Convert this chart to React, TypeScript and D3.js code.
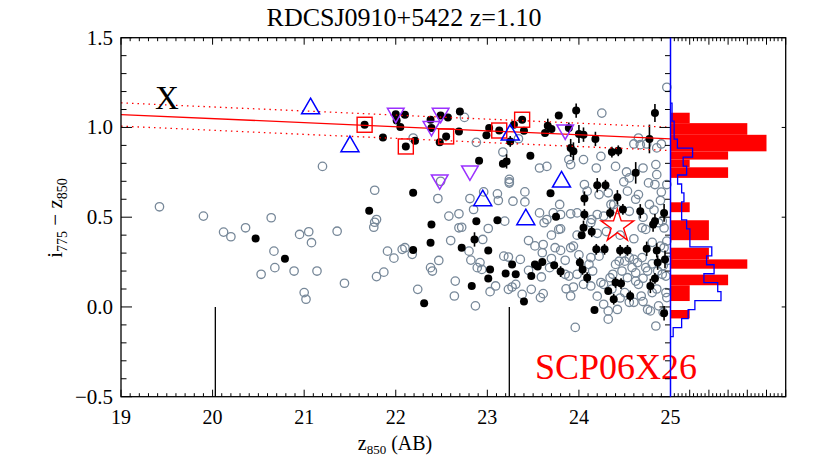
import * as d3 from 'd3'

// ---- data ----
const grayX = [19.42,19.90,20.12,20.20,20.36,20.64,20.67,20.68,20.53,20.89,20.95,21.05,21.08,21.14,21.00,21.02,21.20,21.36,21.44,21.77,21.79,21.77,21.76,21.91,21.98,21.79,21.87,22.07,22.10,22.18,22.24,22.19,
  22.75,22.88,23.34,24.25,23.17,23.24,23.24,23.24,22.49,22.46,22.81,22.96,23.11,23.12,23.28,23.41,23.41,23.57,23.65,23.79,23.89,23.91,24.05,24.06,24.09,24.19,24.22,24.24,24.32,24.35,24.40,24.52,24.55,24.60,24.65,24.67,24.70,24.74,24.76,24.83,24.85,24.84,24.85,24.90,24.96,24.96,24.49,24.53,24.65,24.77,24.89,22.58,22.69,22.85,23.19,23.57,23.65,23.80,23.91,24.14,24.42,
  22.38,22.40,22.47,22.60,22.65,22.64,22.69,22.72,22.80,22.82,22.87,22.89,22.92,22.94,22.95,23.01,23.09,23.03,23.18,23.23,23.23,23.27,23.31,23.36,23.38,23.45,23.48,23.58,23.59,23.61,23.60,23.61,23.62,23.68,23.74,23.78,23.80,23.85,23.89,23.91,23.94,23.86,23.94,23.91,23.96,23.98,24.05,24.11,24.13,24.13,24.22,24.24,24.27,24.27,24.32,24.32,24.34,24.37,24.40,24.44,24.42,24.50,24.55,24.60,24.55,24.60,24.62,24.65,24.64,24.68,24.69,24.73,24.75,24.75,24.78,24.69,24.73,24.84,24.89,24.93,24.91,24.95,24.95,24.96,24.87,24.47,24.53,
  23.72,23.80,23.98,24.13,24.20,24.27,24.38,24.55,24.87,24.91,24.96,
  24.58,24.62,24.70,24.80,24.86,24.92,24.97,24.80,24.85,24.92,24.70,24.50,24.45,24.36,24.20,24.15,24.00,23.85,23.70,24.80,24.60,24.45,24.30,24.70,24.82,24.93,24.62,24.90,24.20,23.98,23.70,23.52,23.45]
const grayY = [0.558,0.506,0.417,0.391,0.441,0.497,0.311,0.219,0.182,0.200,0.404,0.419,0.358,0.200,0.080,0.043,0.783,0.422,0.132,0.650,0.487,0.472,0.444,0.311,0.272,0.169,0.194,0.321,0.330,0.293,0.098,0.941,
  1.056,0.917,0.937,1.080,0.863,0.711,0.690,0.697,0.700,0.604,0.604,0.641,0.630,0.593,0.589,0.641,0.585,0.774,0.783,0.571,0.821,0.793,0.821,0.682,0.645,0.774,0.626,0.839,0.636,0.571,0.783,0.752,0.719,0.908,0.941,0.904,0.774,0.908,0.691,0.682,0.737,0.793,0.886,0.908,0.682,1.224,0.697,0.645,0.626,0.571,0.593,0.506,0.519,0.543,0.478,0.524,0.487,0.515,0.519,0.487,0.543,
  0.219,0.200,0.259,0.370,0.144,0.061,0.441,0.444,0.311,0.261,0.006,0.219,0.247,0.209,0.376,0.437,0.117,0.085,0.283,0.278,0.098,0.111,0.126,0.265,0.070,0.204,0.098,0.052,0.167,0.074,0.302,0.348,0.469,0.219,0.330,0.432,0.315,0.182,0.172,0.330,0.339,0.101,0.111,0.061,-0.114,0.182,0.126,0.237,0.117,0.275,0.283,0.136,0.126,0.015,-0.022,-0.068,0.163,0.182,0.237,0.255,-0.014,0.255,0.275,0.265,0.026,0.026,0.144,0.126,0.247,0.061,0.275,0.219,0.200,-0.014,-0.022,0.441,0.432,-0.106,0.339,0.330,0.182,0.172,0.080,0.052,0.006,0.200,0.163,
  0.524,0.435,0.524,0.469,0.515,0.506,0.571,0.533,0.469,0.478,0.367,
  0.22,0.19,0.16,0.24,0.20,0.23,0.26,0.08,0.10,-0.03,0.03,0.08,0.05,0.10,0.06,0.20,0.29,0.26,0.27,0.36,0.38,0.40,0.42,0.50,0.54,0.44,0.60,0.64,0.41,0.40,0.40,0.34,0.37]

const blackX = [20.47,20.79,21.71,21.66,21.86,22.00,22.01,22.05,22.10,22.11,22.21,22.19,22.19,22.38,22.39,22.49,22.57,22.55,22.48,22.70,22.69,22.91,22.99,23.02,23.13,23.25,23.29,23.38,23.40,23.17,23.21,23.47,23.63,23.66,23.70,23.78,23.97,23.91,23.94,23.89,24.00,24.05,24.18,24.36,24.43,24.77,24.83,
  23.69,24.20,24.29,24.06,24.42,24.62,22.39,22.88,23.11,23.75,24.06,24.34,24.48,24.67,24.93,
  22.38,22.72,22.86,23.01,23.03,23.01,22.83,22.31,23.27,23.20,23.31,23.40,23.48,23.52,23.55,23.60,23.73,23.80,24.01,24.04,24.09,24.05,24.03,24.14,24.19,24.28,24.45,24.53,24.74,24.85,24.86,24.94,24.81,24.83,24.32,24.38,24.40,24.46,24.56,24.17,24.78,24.83,24.93]
const blackY = [0.382,0.269,0.536,1.015,0.944,1.074,1.039,1.002,1.071,0.894,0.926,0.636,0.317,1.043,0.997,1.067,1.056,0.950,0.917,1.089,0.978,0.815,0.956,0.997,0.983,0.922,1.015,1.043,0.982,0.798,0.811,0.843,0.969,1.009,0.991,1.067,1.094,0.886,0.867,0.997,0.964,0.960,0.936,0.863,0.870,0.936,1.080,
  0.633,0.678,0.678,0.604,0.611,0.747,0.459,0.478,0.483,0.502,0.515,0.524,0.543,0.533,0.524,
  0.358,0.330,0.376,0.315,0.209,0.159,0.117,0.021,0.237,0.187,0.182,0.030,0.172,0.237,0.225,0.250,0.233,0.197,0.247,0.209,0.163,0.441,0.400,0.419,0.321,0.321,0.315,0.315,0.324,0.315,0.247,0.265,0.459,0.478,0.089,0.043,0.136,0.130,0.061,-0.017,0.117,0.159,-0.035]
const blackErr = [0,0,0,0,0,0,0,0,0,0,0,0,0,0,0,0,0,0,0,0,0,0,0,0,0,0.03,0,0,0,0,0.04,0,0,0.04,0,0,0.04,0.05,0.05,0.03,0.05,0.04,0.04,0.03,0.03,0.08,0.05,
  0,0.04,0.03,0.04,0.04,0.06,0,0,0,0,0.03,0.03,0.03,0.04,0.05,
  0,0,0.04,0,0,0,0,0,0,0,0,0,0,0,0,0,0,0.03,0.03,0.03,0.03,0.04,0,0.03,0.03,0.03,0.03,0.03,0.04,0.04,0.04,0.05,0.04,0.04,0,0.03,0.03,0.03,0.03,0,0.04,0.03,0.04]

const triUpX = [21.07, 21.50, 23.25, 23.81, 22.95, 23.42]
const triUpY = [1.105, 0.894, 0.959, 0.697, 0.593, 0.487]
const triDownX = [22.00, 22.49, 22.39, 22.81, 22.48, 23.85]
const triDownY = [1.08, 1.08, 1.006, 0.759, 0.709, 0.987]
const squareX = [21.66, 22.11, 22.55, 23.13, 23.38]
const squareY = [1.015, 0.894, 0.950, 0.983, 1.043]
const starX = 24.42
const starY = 0.45

const fitX = [19, 25]
const fitY = [1.072, 0.936]
const fitScatter = 0.065

const markerLinesX = [20.03, 23.24]

// red histogram bars (top, bottom, count)
const redTop = [1.082, 1.024, 0.959, 0.867, 0.821, 0.778, 0.583, 0.483, 0.330, 0.265, 0.180, 0.121, -0.017]
const redBot = [1.024, 0.959, 0.867, 0.821, 0.778, 0.719, 0.528, 0.372, 0.265, 0.213, 0.121, 0.033, -0.064]
const redCount = [1, 4, 5, 3, 1, 3, 1, 2, 2, 4, 3, 1, 1]

// blue step histogram, bins of 0.05 from the top edge down
const blueTop = 1.135
const blueBin = 0.05
const blueCount = [0.08,0.08,0.19,0.19,0.36,1.15,0.66,0.84,0.37,0.58,0.70,0.58,0.58,0.84,1.01,1.01,2.15,1.88,2.27,1.74,2.46,2.63,1.27,0.92,0.58,0.14]

const xTicks = [19, 20, 21, 22, 23, 24, 25]
const yTicks = [-0.5, 0, 0.5, 1.0, 1.5]
const yTickLabels = ['\u22120.5', '0.0', '0.5', '1.0', '1.5']

const FONT = '"Liberation Serif", "DejaVu Serif", serif'

export default function App() {
  const x = d3.scaleLinear().domain([19, 25]).range([121, 670.5])
  const y = d3.scaleLinear().domain([-0.5, 1.5]).range([396.7, 37.7])
  const h = d3.scaleLinear().domain([0, 6]).range([670.5, 785.7])

  const [top, bottom] = [y(1.5), y(-0.5)]
  const left = x(19), mid = x(25), right = h(6)

  const xMinor = d3.range(19, 25.001, 0.1)
  const yMinor = d3.range(-0.5, 1.5001, 0.1)
  const hMinor = d3.range(0, 6.001, 0.2)

  const fitLine = d3.line<number>().x((d) => x(d)).y((d, i) => y(fitY[i]))
  const fitOff = (off: number) => d3.line<number>().x((d) => x(d)).y((d, i) => y(fitY[i] + off))(fitX) || ''

  // blue step outline
  const stepPts: [number, number][] = [[0, blueTop]]
  blueCount.forEach((c, i) => {
    const t = blueTop - i * blueBin
    stepPts.push([c, t], [c, t - blueBin])
  })
  stepPts.push([0, blueTop - blueCount.length * blueBin])
  const stepPath = d3.line<[number, number]>().x((d) => h(d[0])).y((d) => y(d[1]))(stepPts) || ''

  const triUp = d3.symbol(d3.symbolTriangle, 140)() || ''
  const triDown = d3.symbol(d3.symbolTriangle, 120)() || ''
  const star = d3.symbol(d3.symbolStar, 330)() || ''

  return (
    <svg width={830} height={467} style={{ position: 'absolute', left: 0, top: 0, background: '#fff' }} fontFamily={FONT}>
      {/* title */}
      <text x={404} y={26} textAnchor="middle" fontSize={26}>RDCSJ0910+5422 z=1.10</text>

      {/* gray circles */}
      {grayX.map((gx, i) => (
        <circle key={'g' + i} cx={x(gx)} cy={y(grayY[i])} r={4.2} fill="none" stroke="#778899" strokeWidth={1.3} />
      ))}

      {/* black points with error bars */}
      {blackX.map((bx, i) => (
        <g key={'b' + i}>
          {blackErr[i] > 0 && (
            <line x1={x(bx)} x2={x(bx)} y1={y(blackY[i] - blackErr[i])} y2={y(blackY[i] + blackErr[i])} stroke="#000" strokeWidth={1.6} />
          )}
          <circle cx={x(bx)} cy={y(blackY[i])} r={4} fill="#000" />
        </g>
      ))}

      {/* fit line and scatter */}
      <path d={fitLine(fitX) || ''} stroke="#ff0000" strokeWidth={1.3} fill="none" />
      <path d={fitOff(fitScatter)} stroke="#ff0000" strokeWidth={1.3} strokeDasharray="1.5 4" fill="none" />
      <path d={fitOff(-fitScatter)} stroke="#ff0000" strokeWidth={1.3} strokeDasharray="1.5 4" fill="none" />

      {/* special markers */}
      {squareX.map((sx, i) => (
        <rect key={'s' + i} x={x(sx) - 7.5} y={y(squareY[i]) - 7.5} width={15} height={15} fill="none" stroke="#ff0000" strokeWidth={1.4} />
      ))}
      {triUpX.map((tx, i) => (
        <path key={'tu' + i} d={triUp} transform={`translate(${x(tx)},${y(triUpY[i])})`} fill="none" stroke="#0000ff" strokeWidth={1.5} />
      ))}
      {triDownX.map((tx, i) => (
        <path key={'td' + i} d={triDown} transform={`translate(${x(tx)},${y(triDownY[i])}) rotate(180)`} fill="none" stroke="#9b30ff" strokeWidth={1.5} />
      ))}
      <path d={star} transform={`translate(${x(starX)},${y(starY)})`} fill="none" stroke="#ff0000" strokeWidth={1.4} />

      {/* vertical marker lines */}
      {markerLinesX.map((mx, i) => (
        <line key={'m' + i} x1={x(mx)} x2={x(mx)} y1={y(0)} y2={bottom} stroke="#000" strokeWidth={1.3} />
      ))}

      {/* histogram */}
      {redTop.map((t, i) => (
        <rect key={'r' + i} x={h(0)} y={y(t)} width={h(redCount[i]) - h(0)} height={y(redBot[i]) - y(t)} fill="#ff0000" />
      ))}
      <path d={stepPath} fill="none" stroke="#0000ff" strokeWidth={1.3} />

      {/* labels */}
      <text x={167} y={109} textAnchor="middle" fontSize={33}>X</text>
      <text x={535} y={379} fontSize={36} fill="#ff0000">SCP06X26</text>

      {/* frame */}
      <rect x={left} y={top} width={right - left} height={bottom - top} fill="none" stroke="#000" strokeWidth={1.3} />

      {/* main x axis ticks (bottom + top) */}
      {xMinor.map((v, i) => {
        const major = Math.abs(v - Math.round(v)) < 1e-6
        const len = major ? 7 : 3.5
        return (
          <g key={'xt' + i}>
            <line x1={x(v)} x2={x(v)} y1={bottom} y2={bottom - len} stroke="#000" strokeWidth={1} />
            <line x1={x(v)} x2={x(v)} y1={top} y2={top + len} stroke="#000" strokeWidth={1} />
          </g>
        )
      })}
      {/* histogram x ticks */}
      {hMinor.map((v, i) => {
        const major = Math.abs(v - Math.round(v)) < 1e-6
        const len = major ? 7 : 3.5
        return (
          <g key={'ht' + i}>
            <line x1={h(v)} x2={h(v)} y1={bottom} y2={bottom - len} stroke="#000" strokeWidth={1} />
            <line x1={h(v)} x2={h(v)} y1={top} y2={top + len} stroke="#000" strokeWidth={1} />
          </g>
        )
      })}
      {/* y ticks: left and at x=25 */}
      {yMinor.map((v, i) => {
        const major = Math.abs(v * 2 - Math.round(v * 2)) < 1e-6
        const len = major ? 11 : 5.5
        return (
          <g key={'yt' + i}>
            <line x1={left} x2={left + len} y1={y(v)} y2={y(v)} stroke="#000" strokeWidth={1} />
            <line x1={mid} x2={mid - len} y1={y(v)} y2={y(v)} stroke="#000" strokeWidth={1} />
          </g>
        )
      })}
      {yTicks.map((v, i) => (
        <line key={'yr' + i} x1={right} x2={right - 4} y1={y(v)} y2={y(v)} stroke="#000" strokeWidth={1} />
      ))}

      {/* blue baseline of histogram */}
      <line x1={mid} x2={mid} y1={top} y2={bottom} stroke="#0000ff" strokeWidth={1.5} />

      {/* tick labels */}
      {xTicks.map((v) => (
        <text key={'xl' + v} x={x(v)} y={424} textAnchor="middle" fontSize={20}>{v}</text>
      ))}
      {yTicks.map((v, i) => (
        <text key={'yl' + i} x={113} y={y(v) + 7} textAnchor="end" fontSize={21}>{yTickLabels[i]}</text>
      ))}

      {/* axis titles */}
      <text x={395} y={450} textAnchor="middle" fontSize={20}>
        z<tspan fontSize={13} dy={4}>850</tspan><tspan dy={-4}> (AB)</tspan>
      </text>
      <text transform="translate(62,218) rotate(-90)" textAnchor="middle" fontSize={21}>
        i<tspan fontSize={14} dy={5}>775</tspan><tspan dy={-5}> {'\u2212'} z</tspan><tspan fontSize={14} dy={5}>850</tspan>
      </text>
    </svg>
  )
}
